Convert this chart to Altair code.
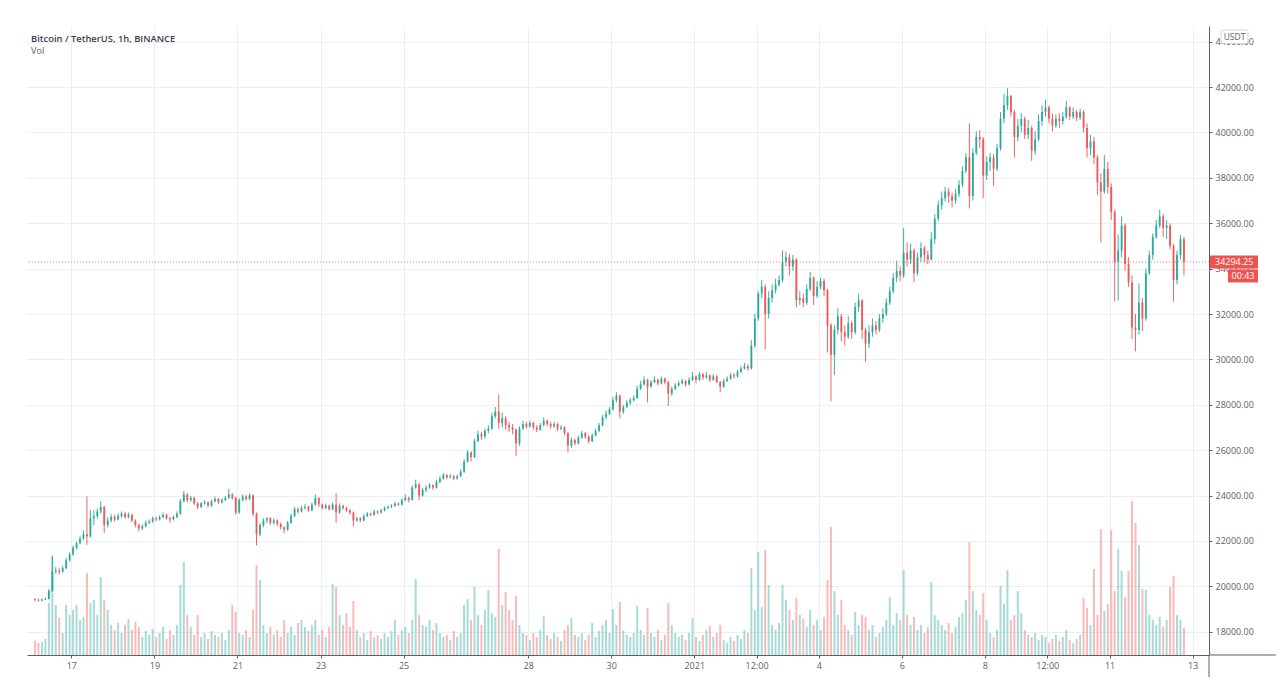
import altair as alt
import pandas as pd

# ---------------- data (2-hour candles) ----------------
FIRST_OPEN = 19430
LAST_PRICE = 34294.25
LAST_TIMER = "00:43"
TITLE = "Bitcoin / TetherUS, 1h, BINANCE"
SUBTITLE = "Vol"

close = [
    19400, 19380, 19420, 19440, 19800, 20650, 20700, 20650, 20800, 21150,
    21400, 21700, 21900, 22100, 22300, 22200, 23000, 23100, 23300, 23500,
    22700, 22900, 23050, 22950, 23100, 23200, 23050, 23150, 22900, 22700,
    22550, 22650, 22800, 22850, 23000, 22950, 23050, 23150, 23000, 22950,
    23050, 23200, 23750, 24050, 23800, 23900, 23650, 23500, 23650, 23700,
    23550, 23750, 23850, 23700, 23800, 23900, 24050, 23900, 23250, 23800,
    23950, 23850, 24000, 23200, 22300, 22700, 22900, 23000, 22800, 22900,
    22750, 22600, 22500, 22800, 23100, 23400, 23300, 23450, 23500, 23350,
    23600, 23900, 23600, 23450, 23550, 23400, 23600, 23250, 23550, 23450,
    23350, 23250, 22900, 23000, 22900, 23100, 23200, 23150, 23300, 23250,
    23350, 23450, 23500, 23550, 23650, 23600, 23800, 23900, 23800, 24350,
    24500, 24000, 24250, 24350, 24450, 24350, 24600, 24750, 24900, 24800,
    24850, 24750, 24850, 25050, 25500, 25900, 25700, 26400, 26700, 26600,
    26850, 26950, 27500, 27700, 27200, 27400, 27100, 27000, 26900, 26300,
    26950, 27150, 27050, 27200, 27000, 26900, 27100, 27300, 27150, 27050,
    27150, 26950, 27000, 26750, 26200, 26450, 26300, 26550, 26750, 26600,
    26400, 26650, 26850, 27100, 27450, 27600, 27800, 28200, 28400, 27700,
    27900, 28100, 28200, 28300, 28700, 28900, 29100, 28800, 29000, 29100,
    28950, 29150, 29000, 28500, 28700, 28850, 28950, 29050, 28900, 29100,
    29250, 29100, 29350, 29200, 29300, 29100, 29250, 29000, 28800, 29050,
    29150, 29300, 29250, 29450, 29600, 29700, 29600, 30600, 31800, 32900,
    33200, 32000, 32700, 33050, 33300, 33500, 34300, 34500, 34100, 34400,
    32600, 32700, 32500, 33100, 33600, 32800, 33200, 33450, 33050, 31500,
    30200, 31300, 31900, 31200, 31000, 31600, 31200, 32300, 32600, 31300,
    30700, 31200, 31500, 31300, 31800, 32000, 32500, 33000, 33600, 33900,
    33700, 34700, 34400, 34800, 33800, 34500, 34900, 34600, 34400, 35300,
    36200, 36800, 37100, 37400, 37200, 37000, 37300, 37700, 38300, 38900,
    37200, 39100, 39800, 39700, 38100, 38700, 38900, 38400, 39300, 40600,
    41200, 41600, 40900, 39800, 40300, 40600, 39900, 40200, 39200, 39700,
    40500, 40900, 41100, 40600, 40300, 40600, 40500, 40700, 41100, 40700,
    40900, 40650, 40900, 40200, 39300, 39600, 38900, 37800, 37400, 38400,
    37600, 36500, 34300, 34800, 35900, 34200, 33400, 31400, 31300, 32500,
    31800, 33800, 34600, 35400, 35900, 36300, 35800, 35900, 35000, 33500,
    34600, 35300, 34294.25,
]

high = [
    19470, 19450, 19460, 19500, 19880, 21350, 20850, 20800, 20900, 21250,
    21500, 21800, 21980, 22200, 22450, 23960, 23370, 23350, 23420, 23750,
    23550, 23050, 23180, 23150, 23220, 23300, 23260, 23250, 23200, 22950,
    22760, 22730, 22900, 22950, 23080, 23070, 23130, 23250, 23200, 23060,
    23120, 23300, 23850, 24200, 24100, 23980, 23950, 23720, 23720, 23800,
    23750, 23820, 23950, 23900, 23880, 23980, 24300, 24100, 23950, 23880,
    24050, 24020, 24100, 24050, 23250, 22800, 23000, 23050, 23050, 23000,
    22950, 22800, 22650, 22880, 23200, 23500, 23480, 23550, 23620, 23550,
    23680, 24050, 23920, 23650, 23650, 23600, 23700, 24100, 23650, 23600,
    23500, 23400, 23300, 23080, 23050, 23180, 23270, 23250, 23370, 23350,
    23420, 23520, 23580, 23620, 23720, 23700, 23870, 24050, 23950, 24450,
    24700, 24550, 24350, 24450, 24550, 24500, 24700, 24850, 25000, 24950,
    24950, 24900, 24930, 25150, 25600, 26000, 25950, 26500, 26850, 26800,
    26950, 27100, 27650, 27900, 28450, 27650, 27500, 27250, 27150, 26950,
    27050, 27300, 27250, 27300, 27250, 27100, 27200, 27450, 27350, 27250,
    27250, 27200, 27100, 27050, 26800, 26550, 26500, 26650, 26850, 26800,
    26650, 26750, 26950, 27200, 27550, 27750, 27900, 28350, 28550, 28450,
    28000, 28200, 28300, 28400, 28850, 29050, 29250, 29150, 29100, 29250,
    29150, 29250, 29200, 29050, 28800, 28950, 29050, 29150, 29100, 29200,
    29450, 29300, 29450, 29400, 29450, 29350, 29350, 29300, 29050, 29150,
    29250, 29400, 29400, 29550, 29700, 29850, 29780, 30850, 32000, 33000,
    33500, 33300, 33000, 33300, 33550, 33700, 34800, 34750, 34650, 34600,
    34450, 33000, 32900, 33300, 33850, 33650, 33450, 33600, 33550, 33100,
    31600, 31500, 32250, 32000, 31500, 31900, 31700, 32500, 32900, 32650,
    31400, 31500, 31800, 31700, 32000, 32250, 32700, 33200, 33800, 34350,
    34100, 35800, 35150, 35100, 34900, 34700, 35150, 35000, 34800, 35600,
    36400, 37000, 37400, 37600, 37550, 37350, 37500, 37900, 38500, 39100,
    40400, 39300, 40050, 40100, 39800, 38950, 39100, 39050, 39500, 40900,
    41700, 41950, 41650, 41000, 40600, 40850, 40700, 40550, 40300, 40050,
    40800, 41200, 41450, 41200, 40850, 40800, 40850, 40900, 41400, 41150,
    41100, 41000, 41050, 41000, 40400, 39900, 39800, 39000, 38200, 39000,
    38700, 37750, 36600, 35500, 36300, 36000, 34500, 33700, 32000, 33350,
    32700, 34000, 34800, 35550, 36150, 36600, 36400, 36150, 36000, 35100,
    34800, 35500, 35400,
]

low = [
    19350, 19330, 19340, 19390, 19420, 19760, 20550, 20520, 20600, 20750,
    21080, 21350, 21620, 21850, 22050, 21830, 22150, 22700, 22980, 23200,
    22350, 22600, 22820, 22850, 22900, 23020, 22980, 22990, 22820, 22600,
    22420, 22480, 22600, 22740, 22800, 22880, 22900, 23000, 22930, 22800,
    22900, 23000, 23150, 23700, 23700, 23720, 23580, 23400, 23450, 23600,
    23480, 23500, 23700, 23620, 23650, 23750, 23850, 23820, 23150, 23200,
    23750, 23780, 23800, 23100, 21800, 22200, 22600, 22780, 22700, 22720,
    22650, 22500, 22350, 22450, 22750, 23050, 23200, 23250, 23380, 23280,
    23300, 23550, 23500, 23380, 23400, 23330, 23350, 22800, 23200, 23380,
    23280, 23150, 22640, 22850, 22820, 22870, 23050, 23080, 23100, 23180,
    23200, 23300, 23400, 23450, 23500, 23540, 23560, 23750, 23700, 23780,
    24300, 23800, 23950, 24150, 24300, 24250, 24300, 24550, 24700, 24720,
    24750, 24680, 24700, 24800, 25000, 25450, 25500, 25650, 26350, 26450,
    26500, 26750, 26900, 27400, 26950, 27000, 26900, 26800, 26700, 25750,
    26200, 26900, 26950, 26980, 26900, 26800, 26850, 27050, 27050, 26950,
    26980, 26850, 26880, 26650, 25900, 26100, 26200, 26250, 26500, 26500,
    26300, 26350, 26600, 26800, 27050, 27350, 27550, 27750, 28100, 27400,
    27600, 27850, 28000, 28150, 28250, 28650, 28850, 28100, 28750, 28950,
    28850, 28900, 28900, 27950, 28400, 28650, 28800, 28900, 28800, 28850,
    29050, 28950, 29050, 29100, 29150, 29000, 29050, 28950, 28550, 28750,
    29000, 29100, 29150, 29200, 29400, 29550, 29500, 29550, 30500, 31700,
    32700, 30450, 31800, 32500, 32900, 33200, 33400, 34100, 33700, 33900,
    32300, 32400, 32300, 32400, 33000, 32400, 32700, 33100, 32800, 30300,
    28150, 29300, 31100, 30800, 30600, 30900, 30900, 31100, 32100, 30900,
    29900, 30500, 31000, 31100, 31200, 31600, 31900, 32400, 32900, 33400,
    33450, 33600, 34100, 34200, 33400, 33700, 34300, 34300, 34200, 34350,
    35100, 36100, 36600, 36950, 36900, 36700, 36850, 37150, 37600, 38200,
    36650, 37000, 39000, 39300, 37100, 37900, 38300, 37650, 38300, 39200,
    40400, 41000, 40700, 38900, 39600, 40000, 39700, 39700, 38750, 39000,
    39600, 40300, 40700, 40400, 40050, 40200, 40200, 40350, 40600, 40550,
    40600, 40500, 40550, 40000, 38900, 39000, 38600, 37250, 35150, 37300,
    37300, 36150, 32550, 32600, 34500, 33900, 33200, 30900, 30350, 31100,
    31250, 31700, 33700, 34400, 35300, 35800, 35400, 35300, 34850, 32550,
    33300, 34400, 33700,
]

volume = [
    14, 12, 13, 16, 52, 99, 50, 37, 22, 50,
    40, 45, 50, 35, 38, 82, 52, 55, 40, 78,
    55, 45, 30, 25, 32, 22, 30, 36, 25, 33,
    28, 18, 24, 20, 26, 18, 22, 28, 16, 25,
    20, 30, 70, 93, 40, 28, 20, 40, 18, 22,
    16, 24, 20, 18, 22, 15, 25, 50, 43, 22,
    20, 25, 18, 45, 90, 75, 30, 22, 28, 20,
    25, 18, 35, 22, 28, 20, 32, 35, 28, 24,
    30, 35, 20, 25, 18, 28, 71, 68, 40, 30,
    42, 28, 54, 25, 18, 22, 15, 24, 18, 20,
    16, 22, 18, 24, 35, 20, 25, 28, 22, 35,
    76, 40, 30, 28, 35, 25, 32, 22, 18, 20,
    15, 24, 18, 22, 50, 56, 35, 68, 40, 30,
    45, 65, 42, 38, 106, 50, 63, 45, 35, 59,
    30, 22, 20, 15, 22, 18, 25, 39, 20, 16,
    22, 18, 14, 25, 30, 37, 20, 18, 22, 15,
    20, 32, 18, 24, 30, 35, 22, 46, 30, 53,
    25, 20, 18, 22, 49, 25, 20, 47, 22, 18,
    25, 15, 20, 52, 30, 22, 18, 20, 15, 22,
    37, 18, 14, 20, 25, 29, 18, 22, 30, 15,
    12, 18, 14, 20, 16, 25, 22, 87, 45, 103,
    48, 105, 70, 30, 25, 32, 70, 55, 45, 35,
    57, 40, 36, 28, 45, 30, 35, 25, 38, 75,
    128, 64, 40, 55, 30, 25, 20, 43, 30, 40,
    38, 25, 30, 18, 22, 28, 35, 58, 30, 42,
    35, 85, 40, 30, 38, 25, 30, 22, 28, 73,
    40, 35, 30, 25, 32, 22, 28, 38, 42, 55,
    113, 64, 45, 40, 62, 35, 22, 18, 25, 69,
    51, 85, 35, 40, 64, 42, 25, 20, 18, 22,
    15, 20, 18, 12, 16, 20, 14, 18, 25, 15,
    12, 16, 20, 57, 47, 30, 86, 40, 126, 44,
    51, 125, 64, 106, 84, 58, 84, 154, 132, 110,
    66, 65, 40, 35, 30, 38, 28, 35, 68, 79,
    40, 35, 27,
]

# x axis: hours from 17 Dec 2020 00:00
tick_hours = [0, 48, 96, 144, 192, 264, 312, 360, 396, 432, 480, 528, 564, 600, 648]
tick_labels = ["17", "19", "21", "23", "25", "28", "30", "2021", "12:00",
               "4", "6", "8", "12:00", "11", "13"]
price_ticks = list(range(18000, 44001, 2000))

# ---------------- table ----------------
n = len(close)
hours = [-21 + 2 * i for i in range(n)]
opens = [FIRST_OPEN] + close[:-1]
dirs = ["up" if c >= o else "down" for o, c in zip(opens, close)]
df = pd.DataFrame({"h": hours, "open": opens, "close": close, "high": high,
                   "low": low, "vol": volume, "dir": dirs})
one = pd.DataFrame({"k": [0]})

# ---------------- style ----------------
FONT = "Open Sans"
UP = "#26a69a"
DOWN = "#ef5350"
GRID = "#eaeff5"
AXIS = "#5d606b"
LABEL = "#5d606b"
W, H = 1182, 629

label_expr = " : ".join(f"datum.value == {h} ? '{l}'" for h, l in zip(tick_hours, tick_labels)) + " : ''"

XS = alt.Scale(domain=[-22.75, 654.6], nice=False, zero=False)
XAX = alt.Axis(values=tick_hours, labelExpr=label_expr, grid=True, gridColor=GRID,
               domainColor=AXIS, tickColor=AXIS, tickSize=3, labelFont=FONT,
               labelFontSize=9, labelColor=LABEL, labelPadding=3, title=None,
               labelFlush=False, labelOverlap=False, zindex=0)
X = alt.X("h:Q", scale=XS, axis=XAX)

YS = alt.Scale(domain=[16973, 44692], nice=False, zero=False)
YAX = alt.Axis(orient="right", values=price_ticks, format=".2f", grid=True,
               gridColor=GRID, domainColor=AXIS, tickColor=AXIS, tickSize=3,
               labelFont=FONT, labelFontSize=9, labelColor=LABEL, labelPadding=3,
               title=None, labelFlush=False, labelOverlap=False, zindex=0)

COL = alt.Color("dir:N", scale=alt.Scale(domain=["up", "down"], range=[UP, DOWN]), legend=None)

base = alt.Chart(df)

vol = base.mark_bar(size=2, opacity=0.4).encode(
    x=X,
    y=alt.Y("vol:Q", scale=alt.Scale(domain=[0, H], nice=False), axis=None),
    color=COL,
)

wicks = base.mark_rule(strokeWidth=1, opacity=0.9).encode(
    x=X, y=alt.Y("low:Q", scale=YS, axis=YAX), y2="high:Q", color=COL
)
bodies = base.mark_bar(size=1.9, opacity=0.9).encode(
    x=X, y=alt.Y("open:Q", scale=YS, axis=YAX), y2="close:Q", color=COL
)

last_line = alt.Chart(one).mark_rule(color=DOWN, strokeDash=[1, 2], strokeWidth=1, opacity=0.75).encode(
    y=alt.datum(LAST_PRICE)
)

tag1 = alt.Chart(one).mark_rect(color=DOWN, yOffset=-6.5, y2Offset=6.5).encode(
    x=alt.value(W + 1), x2=alt.value(W + 49), y=alt.datum(LAST_PRICE), y2=alt.datum(LAST_PRICE)
)
tag1_text = alt.Chart(one).mark_text(align="left", baseline="middle", color="white",
                                     font=FONT, fontSize=9).encode(
    x=alt.value(W + 6), y=alt.datum(LAST_PRICE), text=alt.value(f"{LAST_PRICE:.2f}")
)
tag2 = alt.Chart(one).mark_rect(color=DOWN, yOffset=7.5, y2Offset=20.5).encode(
    x=alt.value(W + 19), x2=alt.value(W + 49), y=alt.datum(LAST_PRICE), y2=alt.datum(LAST_PRICE)
)
tag2_text = alt.Chart(one).mark_text(align="center", baseline="middle", color="white",
                                     font=FONT, fontSize=9, dy=14).encode(
    x=alt.value(W + 34), y=alt.datum(LAST_PRICE), text=alt.value(LAST_TIMER)
)

usdt_box = alt.Chart(one).mark_rect(fill="white", stroke="#d1d4dc", strokeWidth=1, cornerRadius=2).encode(
    x=alt.value(W + 12), x2=alt.value(W + 39), y=alt.value(4), y2=alt.value(17.5)
)
usdt_text = alt.Chart(one).mark_text(align="center", baseline="middle", color=LABEL,
                                     font=FONT, fontSize=8.5).encode(
    x=alt.value(W + 25.5), y=alt.value(11), text=alt.value("USDT")
)

title = alt.Chart(one).mark_text(align="left", baseline="middle", color="#3d4049",
                                 font=FONT, fontSize=9.4, fontWeight=600).encode(
    x=alt.value(4), y=alt.value(12.5), text=alt.value(TITLE)
)
subtitle = alt.Chart(one).mark_text(align="left", baseline="middle", color=LABEL,
                                    font=FONT, fontSize=9.2).encode(
    x=alt.value(4), y=alt.value(24.5), text=alt.value(SUBTITLE)
)

vline_ext = alt.Chart(one).mark_rule(color=AXIS, strokeWidth=1).encode(
    x=alt.value(W), y=alt.value(H), y2=alt.value(H + 22)
)
hline_ext = alt.Chart(one).mark_rule(color=AXIS, strokeWidth=1).encode(
    x=alt.value(W), x2=alt.value(W + 67), y=alt.value(H)
)

price = alt.layer(wicks, bodies, last_line, tag1, tag1_text, tag2, tag2_text,
                  usdt_box, usdt_text, title, subtitle, vline_ext, hline_ext)

chart = alt.layer(vol, price).resolve_scale(y="independent").properties(
    width=W, height=H,
    padding={"left": 19, "top": 18, "right": 67, "bottom": 22},
    autosize=alt.AutoSizeParams(type="none"),
    background="white",
).configure_view(stroke=None)

chart.save("out.html", embed_options={"renderer": "svg", "actions": False})
